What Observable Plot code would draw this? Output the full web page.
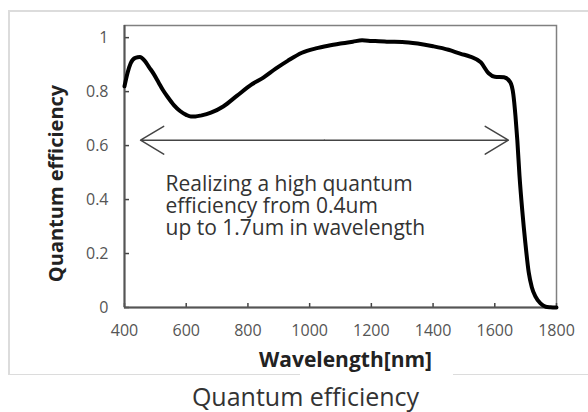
<!DOCTYPE html>
<html>
<head>
<meta charset="utf-8">
<script src="https://cdn.jsdelivr.net/npm/d3@7"></script>
<script src="https://cdn.jsdelivr.net/npm/@observablehq/plot@0.6"></script>
<style>
  html, body { margin: 0; padding: 0; background: #fff; }
  #wrap { position: relative; width: 588px; height: 412px; overflow: hidden; }
  .bx { position: absolute; background: #dcdcdc; }
</style>
</head>
<body>
<div id="wrap">
  <div class="bx" style="left:8px; top:10px; width:580px; height:1.5px;"></div>
  <div class="bx" style="left:8px; top:10px; width:1.5px; height:364px;"></div>
  <div class="bx" style="left:8px; top:373.5px; width:292px; height:1.5px;"></div>
  <div class="bx" style="left:453px; top:373.5px; width:135px; height:1.5px;"></div>
  <div id="chart" style="position:absolute; left:0; top:0;"></div>
</div>
<script>
// Wavelength (nm) and quantum efficiency
const wavelength = [400, 410, 420, 435, 450, 465, 480, 495, 510, 525, 540, 560, 580, 600, 615, 630, 650, 680, 720, 765, 810, 850, 890, 930, 975, 1020, 1060, 1100, 1140, 1170, 1200, 1250, 1300, 1350, 1400, 1450, 1490, 1520, 1555, 1580, 1600, 1630, 1650, 1660, 1667, 1673, 1680, 1689, 1699, 1710, 1720, 1732, 1748, 1765, 1780, 1800];
const efficiency = [0.82, 0.87, 0.905, 0.925, 0.928, 0.915, 0.89, 0.865, 0.835, 0.805, 0.78, 0.75, 0.728, 0.714, 0.708, 0.708, 0.712, 0.722, 0.745, 0.785, 0.825, 0.852, 0.885, 0.915, 0.944, 0.96, 0.97, 0.978, 0.985, 0.99, 0.988, 0.985, 0.984, 0.978, 0.968, 0.955, 0.94, 0.93, 0.908, 0.868, 0.855, 0.853, 0.835, 0.79, 0.71, 0.62, 0.49, 0.36, 0.24, 0.13, 0.075, 0.04, 0.015, 0.003, 0.001, 0];

const xTicks = [400, 600, 800, 1000, 1200, 1400, 1600, 1800];
const yTicks = [0, 0.2, 0.4, 0.6, 0.8, 1];

// Double-headed range arrow (nm) at a given efficiency level
const arrowRange = [452, 1644];
const arrowLevel = 0.62;

const annotation = ["Realizing a high quantum", "efficiency from 0.4um", "up to 1.7um in wavelength"];
const annotationAt = {x: 533, y: 0.49};

const xLabel = "Wavelength[nm]";
const yLabel = "Quantum efficiency";
const title = "Quantum efficiency";

const data = wavelength.map((w, i) => ({w, q: efficiency[i]}));
const mid = (arrowRange[0] + arrowRange[1]) / 2;
const arrows = arrowRange.map(end => ({x1: mid, x2: end, y: arrowLevel}));

const font = "'Open Sans', 'Noto Sans', sans-serif";

const chart = Plot.plot({
  width: 588,
  height: 412,
  marginTop: 25,
  marginRight: 32,
  marginBottom: 105,
  marginLeft: 124,
  style: {fontFamily: font, background: "transparent", overflow: "visible"},
  x: {domain: [400, 1800]},
  y: {domain: [0, 1.045]},
  marks: [
    Plot.frame({stroke: "#808080", strokeWidth: 1.5}),
    Plot.axisX({ticks: xTicks, tickSize: -4, tickPadding: 21, label: null, fontSize: 16, color: "#555", stroke: "#444", strokeWidth: 1.5, tickFormat: d => String(d)}),
    Plot.axisY({ticks: yTicks, tickSize: -5, tickPadding: 21, label: null, fontSize: 16, color: "#555", stroke: "#444", strokeWidth: 1.5, tickFormat: d => String(+d.toFixed(1))}),
    Plot.ruleX([400], {stroke: "#555", strokeWidth: 2}),
    Plot.ruleY([0], {stroke: "#555", strokeWidth: 2}),
    Plot.line(data, {x: "w", y: "q", stroke: "#000", strokeWidth: 4, curve: "monotone-x"}),
    Plot.arrow(arrows, {x1: "x1", x2: "x2", y1: "y", y2: "y", stroke: "#444", strokeWidth: 1.5, headLength: 27, headAngle: 62}),
    Plot.text([annotation.join("\n")], {x: annotationAt.x, y: annotationAt.y, text: d => d, textAnchor: "start", lineAnchor: "top", lineHeight: 1.05, fontSize: 21, fill: "#333"}),
    Plot.text([yLabel], {frameAnchor: "left", text: d => d, textAnchor: "middle", lineAnchor: "middle", rotate: -90, dx: -68, dy: 17, fontSize: 20, fontWeight: "bold", fill: "#222"}),
    Plot.text([xLabel], {frameAnchor: "bottom", text: d => d, textAnchor: "middle", lineAnchor: "middle", dx: 5, dy: 53, fontSize: 21, fontWeight: "bold", fill: "#222"}),
    Plot.text([title], {frameAnchor: "bottom", text: d => d, textAnchor: "middle", lineAnchor: "middle", dx: -35, dy: 90, fontSize: 25, fill: "#333"})
  ]
});
document.getElementById("chart").appendChild(chart);
</script>
</body>
</html>
